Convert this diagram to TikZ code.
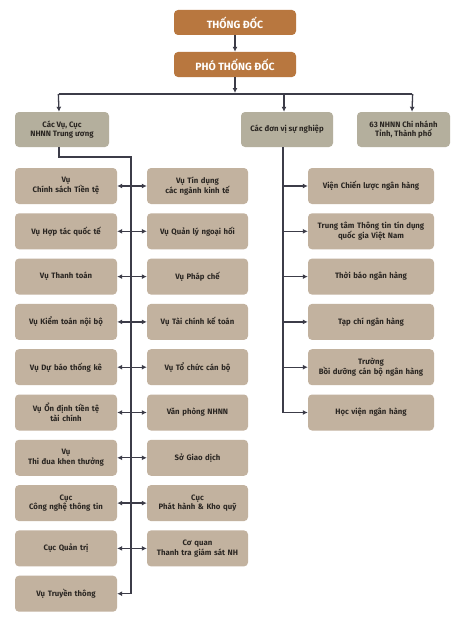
\documentclass[tikz,border=0pt]{standalone}
\usepackage{fontspec}
\setmainfont{Fira Sans}
\usetikzlibrary{arrows.meta}
\definecolor{brownbox}{HTML}{B8773F}
\definecolor{greybox}{HTML}{B4AF9D}
\definecolor{tanbox}{HTML}{C2B29F}
\definecolor{linec}{HTML}{3C3C48}
\definecolor{txt}{HTML}{2A2622}
\tikzset{
  topbox/.style={draw=none, fill=brownbox, rounded corners=4pt, minimum width=122pt, minimum height=25pt, text=white, font=\fontsize{10.5}{12}\selectfont\bfseries, inner sep=0pt},
  tierbox/.style={draw=none, fill=greybox, rounded corners=4pt, minimum height=35pt, align=center, text=txt, font=\fontsize{7.8}{9.6}\selectfont\bfseries, inner sep=1pt},
  unitbox/.style={draw=none, fill=tanbox, rounded corners=4pt, minimum height=36pt, align=center, text=txt, font=\fontsize{7.8}{9.6}\selectfont\bfseries, inner sep=1pt},
  lbox/.style={unitbox, minimum width=102pt, text width=100pt},
  mbox/.style={unitbox, minimum width=101pt, text width=99pt},
  rbox/.style={unitbox, minimum width=126pt, text width=124pt},
  conn/.style={draw=linec, line width=1.3pt},
  arr/.style={conn, -{Latex[length=5pt,width=5pt]}},
  darr/.style={conn, {Latex[length=5pt,width=5pt]}-{Latex[length=5pt,width=5pt]}}
}
\begin{document}
\begin{tikzpicture}[x=1pt,y=-1pt]
\useasboundingbox[fill=white] (0,0) rectangle (452,626);
% top
\node[topbox] (td) at (235,22.5) {THỐNG ĐỐC};
\node[topbox] (ptd) at (235,64.5) {PHÓ THỐNG ĐỐC};
\draw[arr] (td) -- (ptd);
% tier
\node[tierbox, minimum width=94pt] (vu) at (62,129.5) {Các Vụ, Cục\\NHNN Trung ương};
\node[tierbox, minimum width=92pt] (dv) at (287,129.5) {Các đơn vị sự nghiệp};
\node[tierbox, minimum width=93pt] (cn) at (403.5,129.5) {63 NHNN Chi nhánh\\Tỉnh, Thành phố};
\coordinate (bus) at (235,94);
\coordinate (busL) at (59,94);
\coordinate (busM) at (284,94);
\coordinate (busR) at (412,94);
\draw[conn] (busL) -- (busR);
\draw[arr] (ptd.south) -- ([yshift=1pt]bus);
\draw[arr] ([xshift=-0.65pt]busL) -- (busL |- vu.north);
\draw[arr] (busM) -- (busM |- dv.north);
\draw[arr] ([xshift=0.65pt]busR) -- (busR |- cn.north);
% left group
\foreach \i/\lt/\rt in {
 1/{Vụ\\Chính sách Tiền tệ}/{Vụ Tín dụng\\các ngành kinh tế},
 2/{Vụ Hợp tác quốc tế}/{Vụ Quản lý ngoại hối},
 3/{Vụ Thanh toán}/{Vụ Pháp chế},
 4/{Vụ Kiểm toán nội bộ}/{Vụ Tài chính kế toán},
 5/{Vụ Dự báo thống kê}/{Vụ Tổ chức cán bộ},
 6/{Vụ Ổn định tiền tệ\\tài chính}/{Văn phòng NHNN},
 7/{Vụ\\Thi đua khen thưởng}/{Sở Giao dịch},
 8/{Cục\\Công nghệ thông tin}/{Cục\\Phát hành \& Kho quỹ},
 9/{Cục Quản trị}/{Cơ quan\\Thanh tra giám sát NH}}{
  \node[lbox] (l\i) at (66,{186+45.3*(\i-1)}) {\lt};
  \node[mbox] (m\i) at (197.5,{186+45.3*(\i-1)}) {\rt};
  \draw[darr] (l\i.east) -- (m\i.west);
}
\node[lbox] (l10) at (66,{186+45.3*9}) {Vụ Truyền thông};
\coordinate (vuS) at (59,147);
\coordinate (tk) at (131,157);
\draw[arr] (vuS) |- (tk) |- (l10.east);
% right group
\foreach \i/\t in {
 1/{Viện Chiến lược ngân hàng},
 2/{Trung tâm Thông tin tín dụng\\quốc gia Việt Nam},
 3/{Thời báo ngân hàng},
 4/{Tạp chí ngân hàng},
 5/{Trường\\Bồi dưỡng cán bộ ngân hàng},
 6/{Học viện ngân hàng}}{
  \node[rbox] (s\i) at (371,{186+45.3*(\i-1)}) {\t};
}
\coordinate (dvS) at (283,147);
\draw[arr] (dvS) |- (s6.west);
\foreach \i in {1,...,5}{
  \draw[arr] (s\i.west -| dvS) -- (s\i.west);
}
\end{tikzpicture}
\end{document}
